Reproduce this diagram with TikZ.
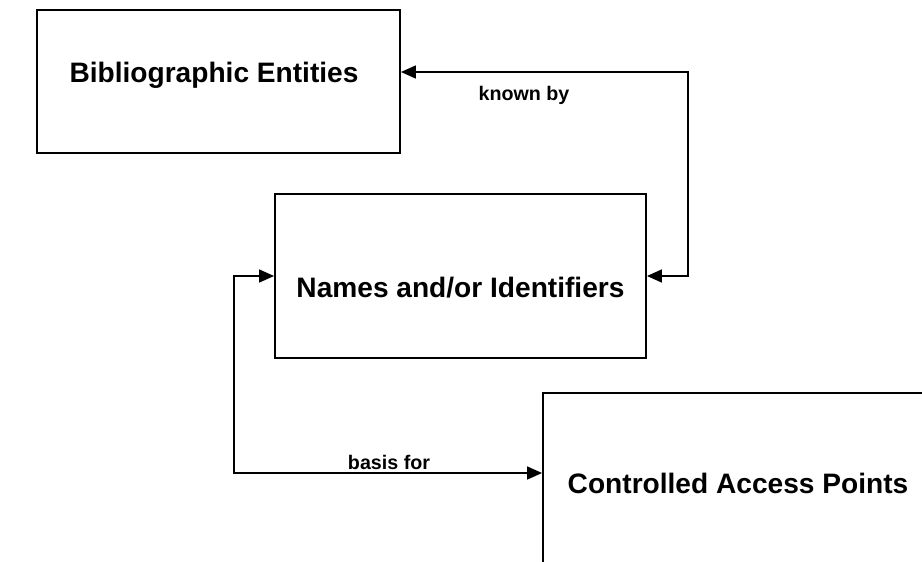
\documentclass[tikz,border=0pt]{standalone}
\usepackage{fontspec}
\setmainfont{Liberation Sans}
\usetikzlibrary{arrows.meta}
\tikzset{
	entity/.style n args={2}{draw=black, line width=1.1pt, minimum width=#1, minimum height=#2, inner sep=0pt},
	title/.style={font=\fontsize{16}{19}\selectfont\bfseries, anchor=base, inner sep=0pt},
	tag/.style={font=\fontsize{11.2}{13}\selectfont\bfseries, anchor=base, inner sep=0pt}
}

\begin{document}
\begin{tikzpicture}[x=0.02cm, y=-0.02cm, link/.style={line width=0.9pt, {Triangle[length=0.3cm, width=0.26cm]}-{Triangle[length=0.3cm, width=0.26cm]}}]

	\useasboundingbox (0, 0) rectangle (922, 561);
	\clip (0, 0) rectangle (922, 561);

	% entities
	\node[entity={7.26cm}{2.86cm}] (bib) at (218.5, 81.5) {};
	\node[entity={7.42cm}{3.28cm}] (names) at (460.5, 276) {};
	\node[entity={8cm}{4cm}] (ctrl) at (743, 493) {};

	\node[title] (bibtext) at (214, 82) {Bibliographic Entities};
	\node[title] (namestext) at (460.5, 297) {Names and/or Identifiers};
	\node[title] (ctrltext) at (738, 493) {Controlled Access Points};

	% relationships
	\coordinate (kbturn) at (688, 72);
	\coordinate (bfturn) at (234, 473);

	\draw[link] (bib.east |- kbturn) -- (kbturn) |- (names.east);
	\draw[link] (names.west) -| (bfturn) -- (bfturn -| ctrl.west);

	\node[tag] (knownby) at (524, 100) {known by};
	\node[tag] (basisfor) at (389, 469) {basis for};

\end{tikzpicture}
\end{document}
